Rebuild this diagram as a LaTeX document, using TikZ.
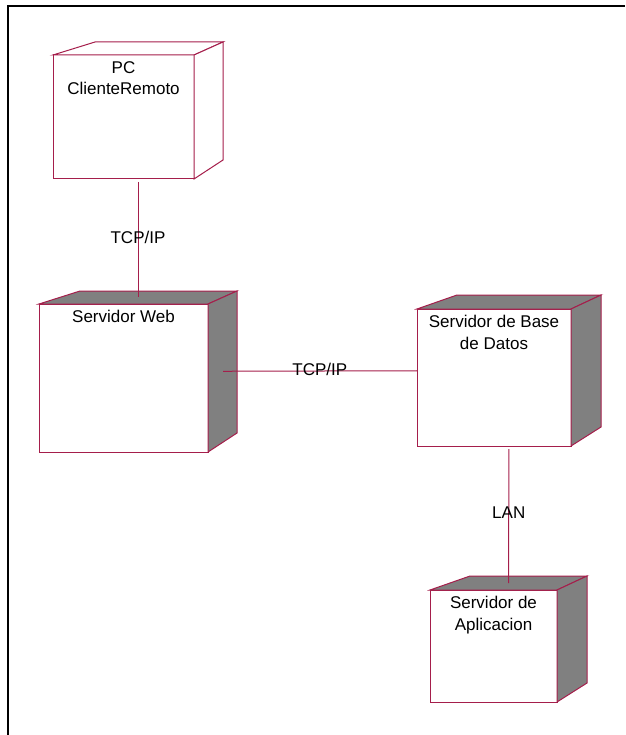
\documentclass[tikz,border=0pt]{standalone}
\usepackage{fontspec}
\setmainfont{Liberation Sans}
\usetikzlibrary{positioning, fit}
\definecolor{RoseLine}{RGB}{165,30,75}
\definecolor{RoseGray}{RGB}{128,128,128}

\begin{document}
\begin{tikzpicture}[
    x=1pt, y=-1pt,
    front/.style={rectangle, draw=RoseLine, fill=white, line width=1pt, inner sep=0pt, outer sep=0pt},
    hull/.style={rectangle, inner sep=0pt, outer sep=0pt},
    plain/.style={draw=RoseLine, fill=white, line width=1pt},
    shaded/.style={draw=RoseLine, fill=RoseGray, line width=1pt},
    title/.style={align=center, inner sep=0pt, font=\fontsize{17}{21.5}\selectfont},
    link/.style={draw=RoseLine, line width=1pt},
    tag/.style={inner sep=0pt, font=\fontsize{17}{20}\selectfont}
  ]
  \useasboundingbox (0,0) rectangle (625,735);
  \draw[line width=2pt] (8,735) -- (8,6) -- (625,6);

  % PC ClienteRemoto
  \node (pcfront) [front, minimum width=141pt, minimum height=124pt] at (123.5,117) {};
  \coordinate (pcback) at (223,42);
  \draw[plain] (pcfront.north west) -- (95,42) -- (pcback) -- (pcfront.north east) -- cycle;
  \draw[plain] (pcfront.north east) -- (pcback) -- (223,160) -- (pcfront.south east) -- cycle;
  \node (pc) [hull, fit=(pcfront)(pcback)] {};
  \node (pctext) [title, below=6pt of pcfront.north] {PC\\ClienteRemoto};

  % Servidor Web
  \node (webfront) [front, minimum width=169pt, minimum height=148pt] at (123.5,378) {};
  \coordinate (webback) at (237,291);
  \draw[shaded] (webfront.north west) -- (80,291) -- (webback) -- (webfront.north east) -- cycle;
  \draw[shaded] (webfront.north east) -- (webback) -- (237,433) -- (webfront.south east) -- cycle;
  \node (web) [hull, fit=(webfront)(webback)] {};
  \node (webtext) [title, below=6pt of webfront.north] {Servidor Web};

  % Servidor de Base de Datos
  \node (dbfront) [front, minimum width=154pt, minimum height=137pt] at (494,377.5) {};
  \coordinate (dbback) at (601,295);
  \draw[shaded] (dbfront.north west) -- (457,295) -- (dbback) -- (dbfront.north east) -- cycle;
  \draw[shaded] (dbfront.north east) -- (dbback) -- (601,427) -- (dbfront.south east) -- cycle;
  \node (db) [hull, fit=(dbfront)(dbback)] {};
  \node (dbtext) [title, below=6pt of dbfront.north] {Servidor de Base\\de Datos};

  % Servidor de Aplicacion
  \node (appfront) [front, minimum width=127pt, minimum height=112pt] at (493.5,646) {};
  \coordinate (appback) at (587,576);
  \draw[shaded] (appfront.north west) -- (470,576) -- (appback) -- (appfront.north east) -- cycle;
  \draw[shaded] (appfront.north east) -- (appback) -- (587,683) -- (appfront.south east) -- cycle;
  \node (app) [hull, fit=(appfront)(appback)] {};
  \node (apptext) [title, below=6pt of appfront.north] {Servidor de\\Aplicacion};

  % connectors
  \draw[link, shorten <=3pt, shorten >=-6pt] (pc) -- node[tag, yshift=-2pt] (pcweb) {TCP/IP} (web);
  \draw[link, shorten <=-14pt] (web) -- node[tag, pos=0.46, yshift=2pt] (webdb) {TCP/IP} (db);
  \draw[link, shorten <=3pt, shorten >=-7pt] (db) -- node[tag, yshift=-2pt] (dbapp) {LAN} (app);
\end{tikzpicture}
\end{document}
